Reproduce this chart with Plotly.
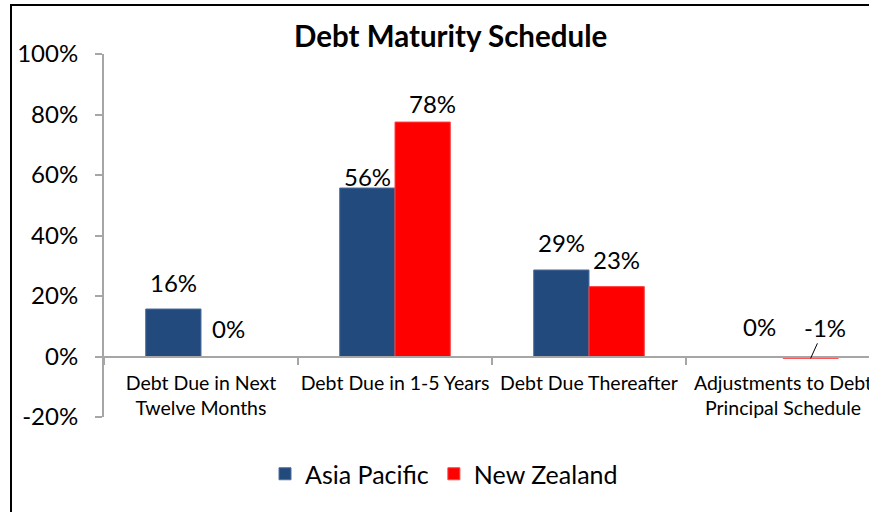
import plotly.graph_objects as go

categories = ["Debt Due in Next<br>Twelve Months", "Debt Due in 1-5 Years",
              "Debt Due Thereafter", "Adjustments to Debt<br>Principal Schedule"]
asia_pacific = [15.7, 55.7, 28.6, 0.0]
new_zealand = [0.0, 77.5, 23.1, -0.6]
asia_labels = ["16%", "56%", "29%", "0%"]
nz_labels = ["0%", "78%", "23%", "-1%"]
y_ticks = [-20, 0, 20, 40, 60, 80, 100]

W, H = 869, 512
FONT = "Lato"
BLUE = "#234A7D"
RED = "#FF0000"

# layout geometry (pixels)
plot_left, plot_top, plot_bottom = 104, 54, 417
cat_w = 194.0
bargap = 0.43
ymin, ymax = -20, 100

x_range = [-0.5, -0.5 + (W - plot_left) / cat_w]
yd0 = (H - plot_bottom) / H
yd1 = (H - plot_top) / H
zero_pos = yd0 + (0 - ymin) / (ymax - ymin) * (yd1 - yd0)

fig = go.Figure()
fig.add_trace(go.Bar(x=list(range(len(categories))), y=asia_pacific, name="Asia Pacific",
                     marker=dict(color=BLUE, line=dict(color="#4F6E9B", width=1))))
fig.add_trace(go.Bar(x=list(range(len(categories))), y=new_zealand, name="New Zealand",
                     marker=dict(color=RED, line=dict(color="#FF4040", width=1))))

bw = (1 - bargap) / 2
LBL = 24
# label offsets (px): (xshift, yshift above bar top)
asia_off = [(0, 27), (0, 12), (0, 27), (4, 30)]
nz_off = [(0, 28), (10, 19), (0, 27), (0, 0)]
ann = []
for i in range(len(categories)):
    ann.append(dict(x=i - bw / 2, y=max(asia_pacific[i], 0), text=asia_labels[i],
                    xref="x", yref="y", showarrow=False, xshift=asia_off[i][0],
                    yshift=asia_off[i][1], font=dict(family=FONT, size=LBL, color="#000")))
    if nz_labels[i] == "-1%":
        ann.append(dict(x=i + bw / 2, y=new_zealand[i], text=nz_labels[i], xref="x", yref="y",
                        showarrow=True, arrowhead=0, arrowwidth=1, arrowcolor="#000",
                        ax=14, ay=-31, standoff=0,
                        font=dict(family=FONT, size=LBL, color="#000")))
    else:
        ann.append(dict(x=i + bw / 2, y=max(new_zealand[i], 0), text=nz_labels[i],
                        xref="x", yref="y", showarrow=False, xshift=nz_off[i][0],
                        yshift=nz_off[i][1], font=dict(family=FONT, size=LBL, color="#000")))

ann.append(dict(x=450 / W, y=1 - 35 / H, xref="paper", yref="paper", showarrow=False,
                text="<b>Debt Maturity Schedule</b>", xanchor="center", yanchor="middle",
                font=dict(family=FONT, size=29.5, color="#000")))

fig.update_layout(
    template="none",
    width=W, height=H, margin=dict(l=0, r=0, t=0, b=0, autoexpand=False),
    paper_bgcolor="white", plot_bgcolor="white",
    barmode="group", bargap=bargap, bargroupgap=0,
    font=dict(family=FONT, color="#000"),
    showlegend=True,
    legend=dict(orientation="h", x=444 / W, xanchor="center", y=1 - 474 / H, yanchor="middle",
                font=dict(family=FONT, size=25, color="#000"), itemwidth=30,
                traceorder="normal", bgcolor="rgba(0,0,0,0)"),
    annotations=ann,
    shapes=[dict(type="rect", xref="paper", yref="paper", x0=11 / W, x1=1.05,
                 y0=-0.05, y1=1 - 5 / H, line=dict(color="#000", width=2), layer="below")],
    xaxis=dict(domain=[plot_left / W, 1], range=x_range, type="linear", automargin=False,
               tickmode="array", tickvals=list(range(len(categories))), ticktext=categories,
               anchor="free", position=zero_pos, showline=True, linecolor="#A6A6A6",
               linewidth=2, ticks="", showgrid=False, zeroline=False,
               ticklabeloverflow="allow", ticklabelstandoff=9,
               tickfont=dict(family=FONT, size=19.5, color="#000"), fixedrange=True),
    yaxis=dict(domain=[yd0, yd1], range=[ymin, ymax], tickvals=y_ticks, automargin=False,
               ticktext=[f"{v}%" for v in y_ticks], showline=True, linecolor="#A6A6A6",
               linewidth=2, ticks="outside", ticklen=7, tickcolor="#A6A6A6", tickwidth=2,
               showgrid=False, zeroline=False, ticklabelstandoff=12, fixedrange=True,
               tickfont=dict(family=FONT, size=24, color="#000")),
)

# category boundary tick marks on the zero axis
fig.update_xaxes(minor=dict(tickvals=[i + 0.5 for i in range(-1, len(categories))],
                            ticks="outside", ticklen=7, tickcolor="#A6A6A6", tickwidth=2))

fig.write_html("out.html", config={"displayModeBar": False},
               post_script="document.body.style.margin='0';document.body.style.overflow='hidden';")
